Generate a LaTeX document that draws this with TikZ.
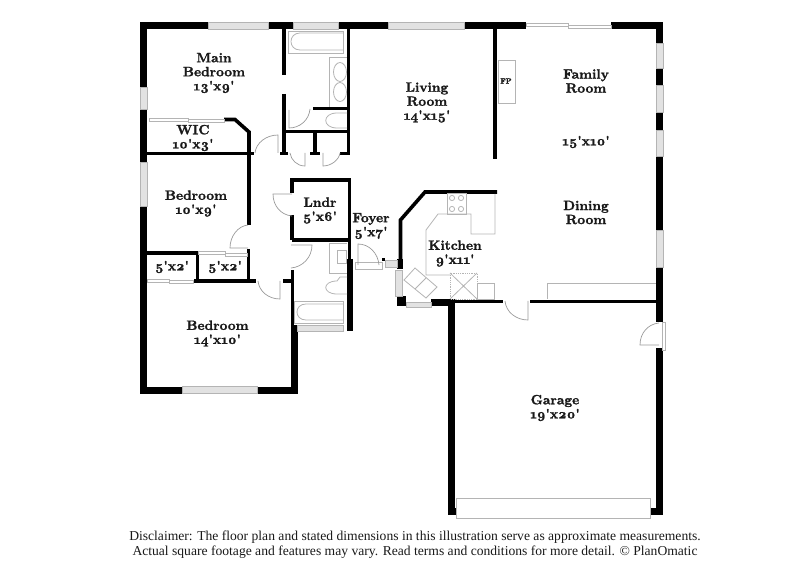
\documentclass[tikz,border=0pt]{standalone}
\usepackage{fontspec}
\setmainfont{lmroman10-regular}[Extension=.otf,BoldFont=lmroman10-bold,BoldFeatures={FakeBold=1.6},Numbers=OldStyle]
\newfontfamily\discfont{Liberation Serif}
\newcommand\ft{\textquotesingle}
\definecolor{fixt}{HTML}{B4B4B4}
\definecolor{winfill}{HTML}{E2E2E2}
\tikzset{
  wallA/.style={line width=7pt,black},
  wallB/.style={line width=3.6pt,black},
  winbox/.style={draw=fixt,line width=0.7pt,fill=winfill},
  fixture/.style={draw=fixt,line width=0.8pt},
  doorline/.style={draw=fixt!85!black,line width=0.7pt},
  roomlabel/.style={font=\fontsize{13.5}{14}\selectfont\bfseries,align=center,inner sep=0pt,text=black!90},
  disc/.style={font=\discfont\fontsize{13.6}{15}\selectfont,align=center,inner sep=0pt,text=black!90}
}
\begin{document}
\begin{tikzpicture}[x=1pt,y=-1pt]
\useasboundingbox (0,0) rectangle (809,588);
% outer walls
\draw[wallA] (140,26)--(208,26) (268,26)--(293,26) (338,26)--(388,26) (464,26)--(526,26) (611,26)--(663,26);
\draw[wallA] (143.5,22.5)--(143.5,87) (143.5,109)--(143.5,162) (143.5,206)--(143.5,393.5);
\draw[wallA] (140,390)--(182,390) (257,390)--(297,390);
\draw[wallA] (294,325)--(294,393.5);
\draw[wallA] (659.5,22.5)--(659.5,43) (659.5,68)--(659.5,85) (659.5,112)--(659.5,130) (659.5,156)--(659.5,230) (659.5,267)--(659.5,322) (659.5,348)--(659.5,515);
\draw[wallA] (451.5,299)--(451.5,515) ;
\draw[line width=7pt] (448,511.5)--(457,511.5) (650,511.5)--(663,511.5);
\draw[line width=6.5pt] (350,259)--(350,331);
\draw[line width=6pt] (400,259)--(400,269);
\draw[fill=black,draw=none] (397,296) rectangle (406,306);
\draw[fill=black,draw=none] (431,299.5) rectangle (455,306);
% interior walls
\draw[wallB] (284,26)--(284,75) (284,94)--(284,155);
\draw[wallB] (348.5,26)--(348.5,155);
\draw[wallB] (284,131.5)--(350,131.5) (315,131.5)--(315,155);
\draw[wallB] (280,153.5)--(288,153.5) (310,153.5)--(320,153.5) (340,153.5)--(350,153.5);
\draw[wallB,line width=3pt] (313,109)--(348,109);
\draw[wallB,line join=miter] (224,119.5)--(235,119.5)--(249,132)--(249,225);
\draw[wallB] (147,153.5)--(254,153.5);
\draw[wallB] (147,253)--(197.5,253) (197.5,253)--(197.5,282);
\draw[wallB] (194,281)--(256,281) (248.5,249)--(248.5,281);
\draw[wallB] (283,281)--(294,281);
\draw[wallB] (292.5,270)--(292.5,326);
\draw[wallB,line join=miter] (292,193)--(292,180)--(349.5,180)--(349.5,260);
\draw[wallB] (292,215)--(292,240.5) (292,240)--(349,240);
\draw[wallB,line join=miter] (400.5,262)--(400.5,220)--(425,192)--(497,192);
\draw[wallB] (455,301.5)--(503,301.5) (530,301.5)--(656,301.5);
\draw[wallB] (495,26)--(495,159);
\draw[line width=3.5pt] (382,259.5)--(385,259.5);
% windows
\foreach \a/\b/\c/\d in {208/22.5/268/29, 293/22.5/338/29, 388/22.5/464/29, 182/386.5/257/393, 297/325.5/343/331,
  140/87/147/109, 140/162/147/206, 656/43/663/68, 656/85/663/112, 656/130/663/156, 656/230/663/267,
  395/270/402/296, 406/302/431/307, 385/260/397/267}
  \draw[winbox] (\a,\b) rectangle (\c,\d);
% sliders
\draw[winbox,fill=white] (526,23.5) rectangle (568,26.5) (568,25) rectangle (611,28);
\draw[winbox,fill=white] (149,118.5) rectangle (188,121) (188,119.5) rectangle (224,122.5);
\draw[winbox,fill=white] (198,251.5) rectangle (225,254) (225,253) rectangle (247,256);
\draw[winbox,fill=white] (147,279.5) rectangle (169,282) (169,280.5) rectangle (193,283);
% main bath
\draw[fixture] (288,31) rectangle (343,53);
\draw[fixture] (343,50)--(300,50) .. controls (288,50) and (288,33) .. (300,33)--(343,33);
\draw[fixture] (329,107)--(329,57)--(347,57);
\draw[fixture] (340,72) ellipse (6.5 and 9.5) (340,92) ellipse (6.5 and 9.5);
\draw[fixture] (347,113)--(337,113) .. controls (322,113) and (322,128) .. (337,128)--(347,128);
% lower bath
\draw[fixture] (347,243)--(329,243)--(329,273)--(347,273);
\draw[fixture] (337,250) rectangle (346,263);
\draw[fixture] (347,277)--(340,277)--(337,281) .. controls (322,281) and (322,294) .. (337,294)--(347,294);
\draw[fixture] (294,301) rectangle (343,323);
\draw[fixture] (343,320)--(306,320) .. controls (294,320) and (294,304) .. (306,304)--(343,304);
% foyer
\draw[fixture] (355,262) rectangle (382,269);
% doors
\draw[doorline] (278,153)--(278,135) .. controls (266,135) and (256,143) .. (255,153);
\draw[doorline] (289,110)--(289,128) .. controls (300,128) and (309,120) .. (310,109);
\draw[doorline] (305,153)--(305,166) .. controls (297,166) and (291,160) .. (290,153);
\draw[doorline] (323,153)--(323,166) .. controls (331,166) and (339,160) .. (340,153);
\draw[doorline] (248,248)--(230,248) .. controls (230,236) and (238,226) .. (248,225);
\draw[doorline] (292,194)--(273,194) .. controls (273,206) and (281,215) .. (292,216);
\draw[doorline] (291,245)--(312,245) .. controls (312,257) and (303,267) .. (291,268);
\draw[doorline] (280,281)--(280,299) .. controls (268,299) and (259,291) .. (258,281);
\draw[doorline] (358,265)--(358,244) .. controls (369,244) and (378,253) .. (379,265);
\draw[doorline] (528,301)--(528,320) .. controls (516,320) and (506,312) .. (505,301);
\draw[doorline] (659,345)--(640,345) .. controls (640,333) and (648,324) .. (659,323);
\draw[fixture,fill=white] (662,322) rectangle (665,350);
% kitchen
\draw[fixture] (447,193) rectangle (466,214);
\foreach \p/\q in {452/198,461/198,452/209,461/209} \draw[fixture] (\p,\q) circle (2.6);
\draw[fixture] (495,194)--(495,234)--(471,234)--(471,214)--(438,214)--(426,230)--(426,275)--(450,275);
\draw[fixture,densely dotted] (450,273) rectangle (477,299);
\draw[fixture] (450,273)--(477,299) (477,273)--(450,299);
\draw[fixture] (477,283) rectangle (494,299);
\draw[fixture] (547,299)--(547,283)--(656,283);
\draw[fixture,fill=white] (415,268)--(437,287)--(426,298)--(404,280)--cycle;
\draw[fixture] (426,278)--(415,289);
\draw[fixture] (498,60) rectangle (515,103);
% garage door
\draw[fixture,fill=white,line width=1pt] (456,498) rectangle (650,518);
% labels
\node[roomlabel] (main) at (214,73) {Main\\Bedroom\\13\ft x9\ft};
\node[roomlabel] (wic) at (193,138) {WIC\\10\ft x3\ft};
\node[roomlabel] (bed2) at (196,203.5) {Bedroom\\10\ft x9\ft};
\node[roomlabel] (lndr) at (320,210.5) {Lndr\\5\ft x6\ft};
\node[roomlabel] (foyer) at (371,226) {Foyer\\5\ft x7\ft};
\node[roomlabel] (cl1) at (172,267) {5\ft x2\ft};
\node[roomlabel] (cl2) at (225,267) {5\ft x2\ft};
\node[roomlabel] (bed3) at (217.5,333.5) {Bedroom\\14\ft x10\ft};
\node[roomlabel] (living) at (427,102.5) {Living\\Room\\14\ft x15\ft};
\node[roomlabel] (family) at (586,81) {Family\\Room};
\node[roomlabel] (fam2) at (586,142) {15\ft x10\ft};
\node[roomlabel] (dining) at (586,212.5) {Dining\\Room};
\node[roomlabel] (kitchen) at (455,253.5) {Kitchen\\9\ft x11\ft};
\node[roomlabel] (garage) at (555,408) {Garage\\19\ft x20\ft};
\node[roomlabel,font=\fontsize{7.5}{8}\selectfont\bfseries] (fp) at (506,81) {FP};
\node[disc] (disc) at (415,544.5) {Disclaimer: The floor plan and stated dimensions in this illustration serve as approximate measurements.\\Actual square footage and features may vary. Read terms and conditions for more detail. © PlanOmatic};
\end{tikzpicture}
\end{document}
